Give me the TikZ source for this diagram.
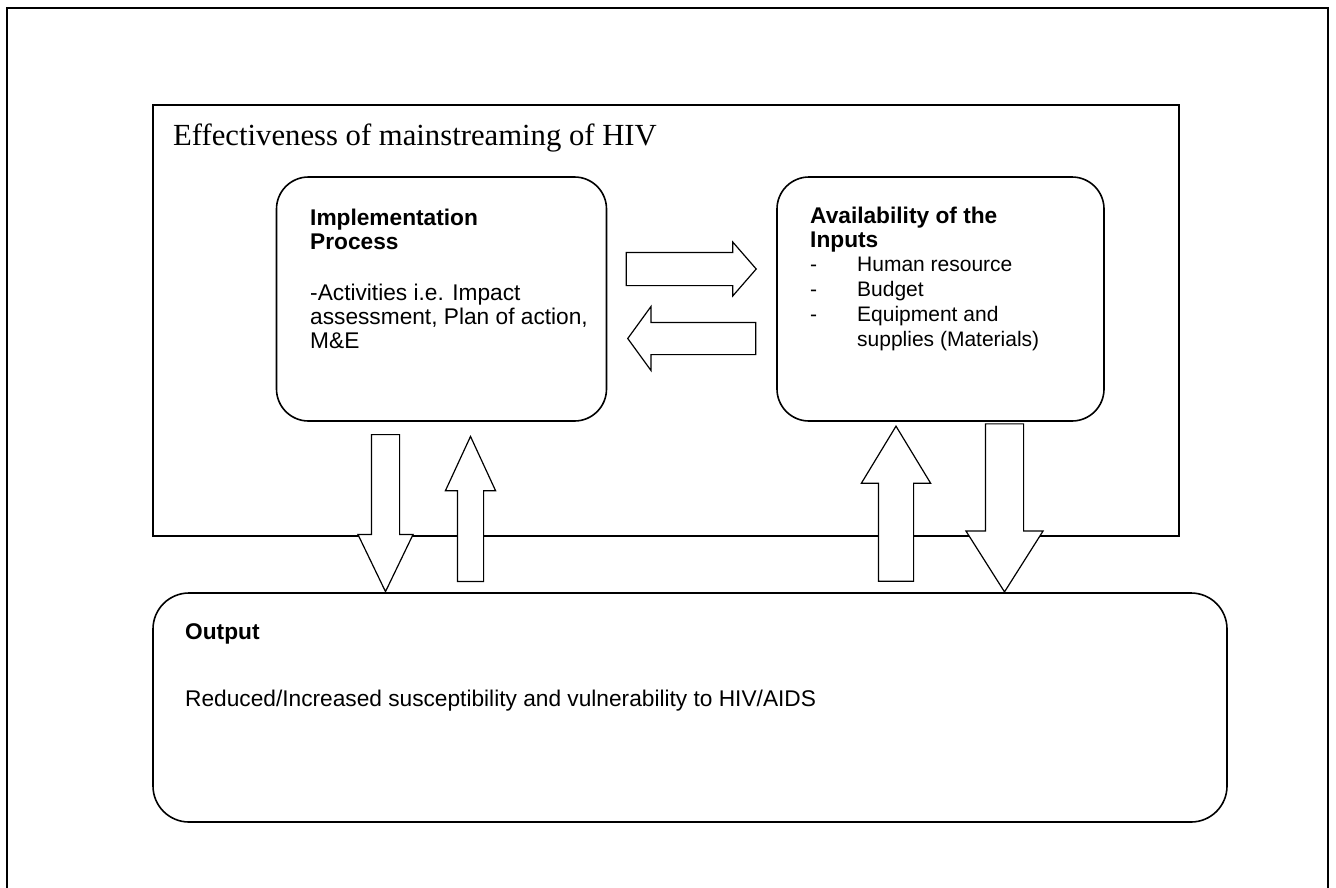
\documentclass[tikz,border=0pt]{standalone}
\usepackage{fontspec}
\setmainfont{Liberation Serif}
\setsansfont{Liberation Sans}
\usetikzlibrary{shapes.arrows, positioning}

\begin{document}
\begin{tikzpicture}[
		x=1pt, y=-1pt,
		frame/.style={draw, line width=1.6pt},
		roundbox/.style={
			draw, line width=1.6pt, rounded corners=32pt,
			minimum width=330pt, minimum height=244pt
		},
		blockarrow/.style={
			single arrow, draw, fill=white, line width=1.2pt,
			single arrow head indent=0pt, anchor=tip
		},
		boxtext/.style={
			font=\sffamily\fontsize{22.7}{24}\selectfont,
			align=left, inner sep=0pt, anchor=north west
		},
		listtext/.style={
			font=\sffamily\fontsize{21}{25}\selectfont,
			align=left, inner sep=0pt, anchor=north west
		}
		]
		
		\useasboundingbox (0,0) rectangle (1336,887);
		
		% Page frame, open at the bottom
		\draw[frame] (7,900) -- (7,8) -- (1328,8) -- (1328,900);
		
		% Outer box with its title
		\node[frame, minimum width=1026pt, minimum height=431pt] (effect) at (666,320.5) {};
		\node[anchor=base west, inner sep=0pt, font=\fontsize{30.7}{33}\selectfont]
		(efftitle) at (173,145) {Effectiveness of mainstreaming of HIV};
		
		% The two main blocks
		\node[roundbox] (impl) at (441.5,299) {};
		\node[roundbox, minimum width=327pt] (inputs) at (940.5,299) {};
		
		% Output block
		\node[roundbox, rounded corners=36pt, minimum width=1074pt, minimum height=229pt]
		(output) at (690,707.5) {};
		
		% --- Texts ---
		\node[boxtext] (impltext) at (310,208.7)
		{\textbf{Implementation}\\\textbf{Process}\\[27pt]
			-Activities i.e. Impact\\assessment, Plan of action,\\M\&E};
		
		\node[boxtext] (inputshead) at (810,206.7)
		{\textbf{Availability of the}\\\textbf{Inputs}};
		\node[listtext] (inputslist) at (810,256.5)
		{\makebox[47pt][l]{-}Human resource\\
			\makebox[47pt][l]{-}Budget\\
			\makebox[47pt][l]{-}Equipment and\\
			\hspace*{47pt}supplies (Materials)};
		
		\node[boxtext] (outtext) at (185,623.5)
		{\textbf{Output}\\[43pt]
			Reduced/Increased susceptibility and vulnerability to HIV/AIDS};
		
		% --- Block arrows (inner sep = half the shaft) ---
		
		% Between the two main blocks
		\node[blockarrow, inner sep=16pt, minimum height=130pt, minimum width=53pt,
		single arrow head extend=10.5pt, single arrow tip angle=98]
		(toinputs) at (757,269) {};
		\node[blockarrow, shape border rotate=180, inner sep=15.5pt, minimum height=128pt,
		minimum width=63pt, single arrow head extend=16pt, single arrow tip angle=108]
		(toimpl) at (627,338.5) {};
		
		% Between the blocks and the output
		\node[blockarrow, shape border rotate=270, inner sep=13.5pt, minimum height=157pt,
		minimum width=54pt, single arrow head extend=13.5pt, single arrow tip angle=51.5]
		(impldown) at (385.5,593) {};
		\node[blockarrow, shape border rotate=90, inner sep=12.5pt, minimum height=145pt,
		minimum width=49pt, single arrow head extend=12pt, single arrow tip angle=49.6]
		(implup) at (470.5,435) {};
		\node[blockarrow, shape border rotate=90, inner sep=17pt, minimum height=155pt,
		minimum width=68pt, single arrow head extend=17pt, single arrow tip angle=62.5]
		(inputsup) at (896,425) {};
		\node[blockarrow, shape border rotate=270, inner sep=18.5pt, minimum height=168pt,
		minimum width=76pt, single arrow head extend=19.5pt, single arrow tip angle=64.7]
		(inputsdown) at (1004.5,593) {};
		
	\end{tikzpicture}
\end{document}
